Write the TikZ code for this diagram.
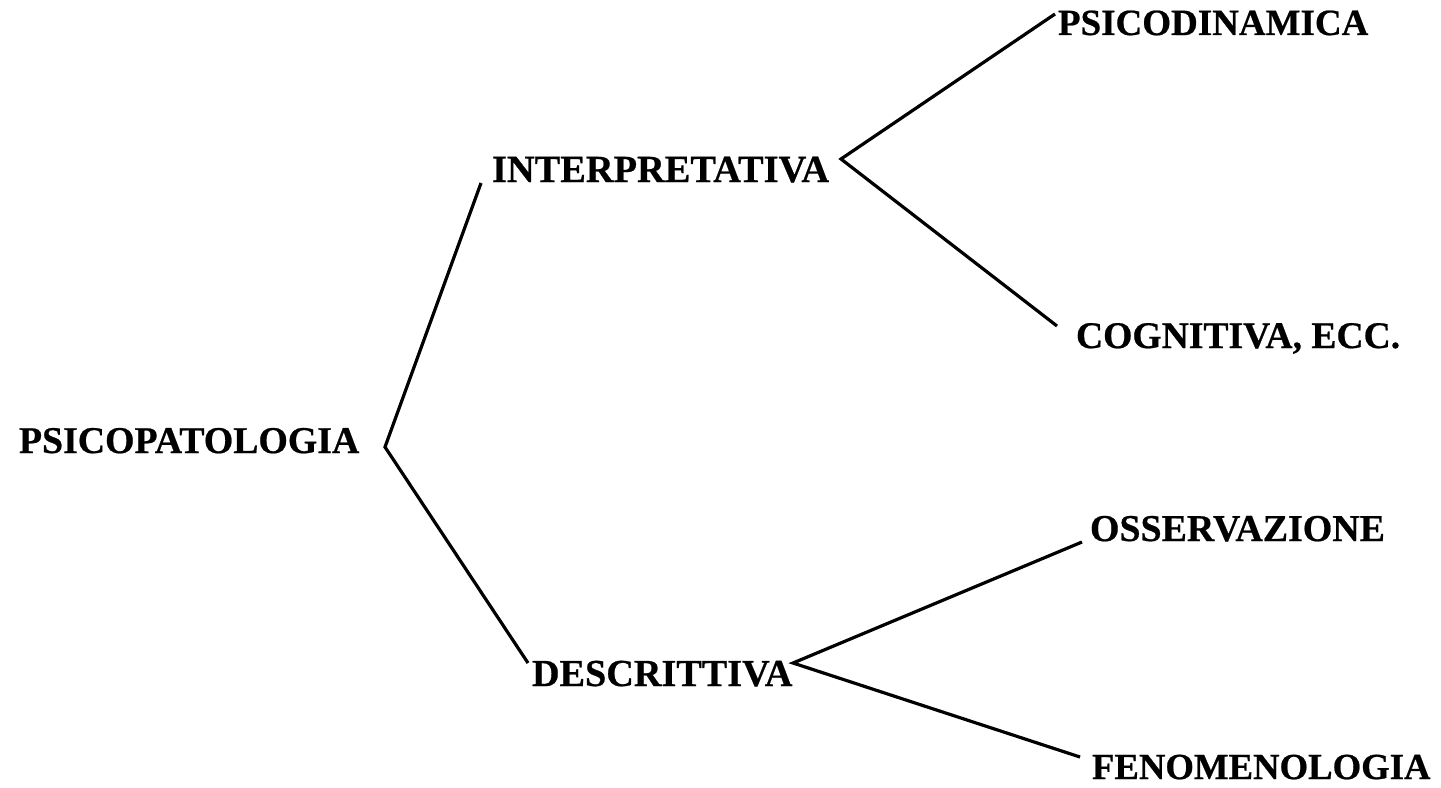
\documentclass[tikz,border=0pt]{standalone}
\usepackage{fontspec}
\setmainfont{Liberation Serif}[BoldFeatures={FakeBold=0.6}]
\begin{document}
\begin{tikzpicture}[x=1bp,y=-1bp,
  term/.style={anchor=base west,inner sep=0pt,outer sep=0pt,text depth=0pt,
    font=\fontsize{#1}{1.1\dimexpr#1\relax}\selectfont\bfseries},
  term/.default=37.5bp,
  branch/.style={line width=3.2bp,line join=miter,line cap=butt}]
\useasboundingbox (0,0) rectangle (1441,787);

% terms of the classification
\node[term=37.8bp] (root)   at (19,453)   {PSICOPATOLOGIA};
\node[term=38.4bp] (interp) at (492,182)  {INTERPRETATIVA};
\node[term=38.2bp] (descr)  at (532,686)  {DESCRITTIVA};
\node[term=37.0bp] (psicod) at (1058,35)  {PSICODINAMICA};
\node[term=37.6bp] (cogn)   at (1076,348) {COGNITIVA, ECC.};
\node[term=37.9bp] (osserv) at (1090,541) {OSSERVAZIONE};
\node[term=36.7bp] (fenom)  at (1092,779) {FENOMENOLOGIA};

% branching points and line ends
\coordinate (j0) at (385,447);
\coordinate (j1) at (841,159);
\coordinate (j2) at (793,663);
\coordinate (e-interp) at (481,183);
\coordinate (e-descr)  at (528,663);
\coordinate (e-psicod) at (1055,14);
\coordinate (e-cogn)   at (1057,326);
\coordinate (e-osserv) at (1082,542);
\coordinate (e-fenom)  at (1080,757);

\draw[branch] (e-interp) -- (j0) -- (e-descr);
\draw[branch] (e-psicod) -- (j1) -- (e-cogn);
\draw[branch] (e-osserv) -- (j2) -- (e-fenom);
\end{tikzpicture}
\end{document}
